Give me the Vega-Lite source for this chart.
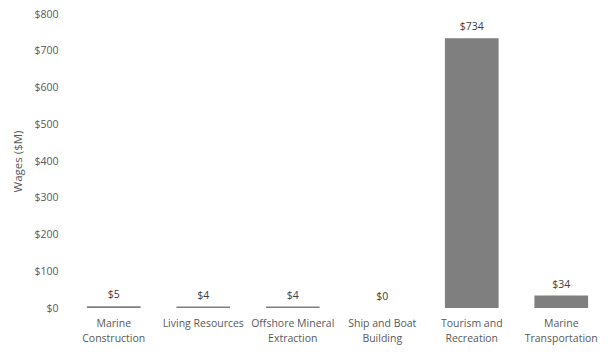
{
  "$schema": "https://vega.github.io/schema/vega-lite/v6.json",
  "autosize": "none",
  "width": 537,
  "height": 294,
  "padding": {"left": 69, "top": 14, "right": 9, "bottom": 44},
  "background": "white",
  "config": {"view": {"stroke": null}, "font": "Open Sans"},
  "data": {"values": [
    {"sector": "Marine|Construction", "wages": 5},
    {"sector": "Living Resources", "wages": 4},
    {"sector": "Offshore Mineral|Extraction", "wages": 4},
    {"sector": "Ship and Boat|Building", "wages": 0},
    {"sector": "Tourism and|Recreation", "wages": 734},
    {"sector": "Marine|Transportation", "wages": 34}
  ]},
  "encoding": {
    "x": {"field": "sector", "type": "nominal", "sort": null,
      "scale": {"paddingInner": 0.4, "paddingOuter": 0.2},
      "axis": {"title": null, "labelAngle": 0, "domain": false, "ticks": false,
        "labelExpr": "split(datum.label, '|')", "labelColor": "#595959", "labelFontSize": 10.5,
        "labelLineHeight": 15, "labelPadding": 10, "labelFont": "Open Sans"}},
    "y": {"field": "wages", "type": "quantitative",
      "scale": {"domain": [0, 800]},
      "axis": {"title": "Wages ($M)", "format": "$,.0f", "values": [0,100,200,300,400,500,600,700,800],
        "labelOverlap": false, "labelBound": false,
        "grid": false, "domain": false, "ticks": false, "labelColor": "#595959", "labelFontSize": 10.5,
        "labelPadding": 11, "titleColor": "#595959", "titleFontSize": 11.5, "titleFontWeight": "normal", "titlePadding": 10}}
  },
  "layer": [
    {"mark": {"type": "bar", "color": "#7f7f7f"}},
    {"mark": {"type": "text", "baseline": "bottom", "dy": -6, "color": "#404040", "fontSize": 10.5, "font": "Open Sans"},
      "encoding": {"text": {"field": "wages", "type": "quantitative", "format": "$,.0f"}}}
  ]
}
